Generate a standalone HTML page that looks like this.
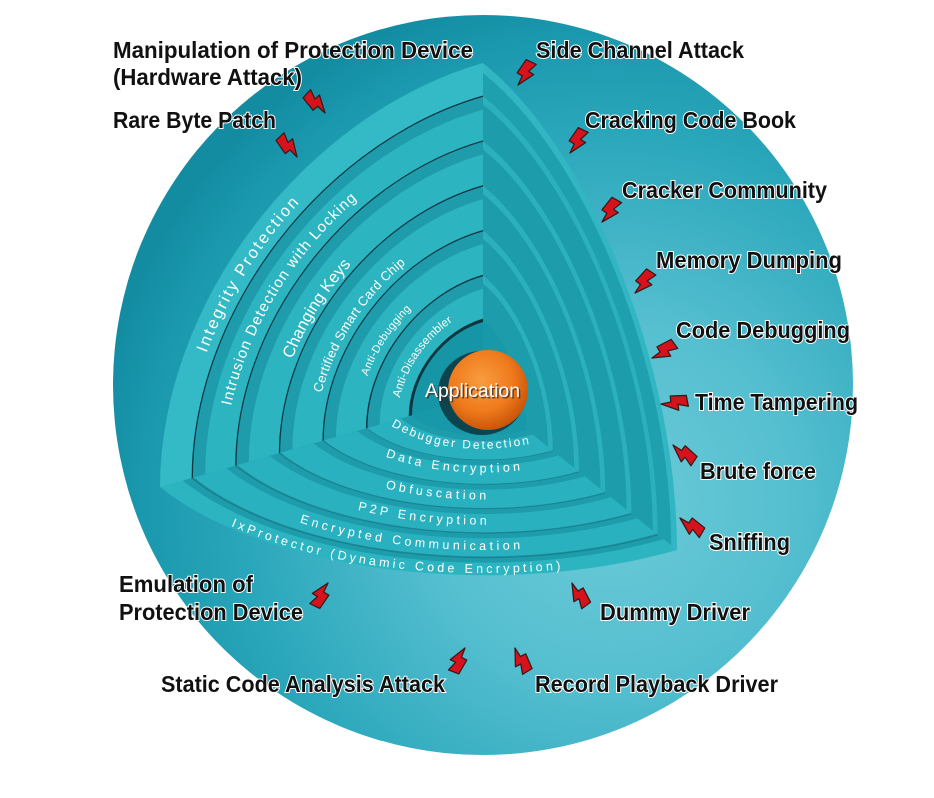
<!DOCTYPE html>
<html><head><meta charset="utf-8">
<style>
html,body{margin:0;padding:0;background:#fff;}
svg{display:block;}
.lab{font-family:"Liberation Sans",Arial,sans-serif;font-weight:bold;font-size:23px;fill:#111;stroke:#fff;stroke-width:2px;paint-order:stroke fill;}
.wt{font-family:"Liberation Sans",Arial,sans-serif;fill:#fff;}
</style></head><body>
<svg width="934" height="798" viewBox="0 0 934 798" xmlns="http://www.w3.org/2000/svg" xmlns:xlink="http://www.w3.org/1999/xlink">
<defs>
<radialGradient id="sph" gradientUnits="userSpaceOnUse" cx="610" cy="500" r="520">
 <stop offset="0" stop-color="#6ccad8"/>
 <stop offset="0.35" stop-color="#55bfd0"/>
 <stop offset="0.7" stop-color="#2ba7bb"/>
 <stop offset="0.9" stop-color="#1a98ad"/>
 <stop offset="1" stop-color="#138ca2"/>
</radialGradient>
<radialGradient id="ball" cx="0.42" cy="0.38" r="0.65">
 <stop offset="0" stop-color="#f99c40"/>
 <stop offset="0.6" stop-color="#ef7a1c"/>
 <stop offset="1" stop-color="#c65208"/>
</radialGradient>
<path id="q" d="M0,0 L100,0 A100,100 0 0 1 0,100 Z"/>
<path id="a" d="M100,0 A100,100 0 0 1 0,100" fill="none"/>
<path id="bolt" d="M-6,-26 L5,-27 L2,-17 L8,-17 L0,0 L-1,-10 L-7,-10 Z" fill="#d6121c" stroke="#3b1a1a" stroke-width="1.3" stroke-linejoin="round"/>

<path id="w1" d="M206.5,353.1 Q236.9,271.1 298,204.3"/>
<path id="w2" d="M231,406 Q259.65,282.85 361.7,195.1"/>
<path id="w3" d="M292.3,359.2 Q312.6,308.3 349.7,266.2"/>
<path id="w4" d="M321.6,393.1 Q343.05,315.35 407.5,262.2"/>
<path id="w5" d="M367.5,376.3 Q381.9,338.25 411.5,308.8"/>
<path id="w6" d="M399.8,398 Q411.55,349.95 453.5,320.9"/>

<path id="f1" d="M231,526 Q374,586.5 567,569"/>
<path id="f2" d="M299.5,522.3 Q404.1,556.15 529.1,548.6"/>
<path id="f3" d="M357.7,509.8 Q420.95,525.55 492.4,524.7"/>
<path id="f4" d="M385.4,488.3 Q435.2,500.1 490.6,499.5"/>
<path id="f5" d="M385.5,456.7 Q450.45,479.25 527.6,469.6"/>
<path id="f6" d="M386.1,422.6 Q447.55,462.75 541.2,441.5"/>
</defs>

<!-- sphere -->
<circle cx="483" cy="385" r="370" fill="url(#sph)"/>

<!-- right wall -->
<g transform="matrix(1.94,1.55,0,-3.32,483,395)">
 <use href="#q" fill="#33b6c3"/>
 <use href="#q" transform="scale(0.97)" fill="#1fa0af"/>
 <use href="#q" transform="scale(0.9)" fill="#2cb0bd"/>
 <use href="#q" transform="scale(0.875)" fill="#1d9cab"/>
 <use href="#q" transform="scale(0.765)" fill="#2cb0bd"/>
 <use href="#q" transform="scale(0.74)" fill="#1d9cab"/>
 <use href="#q" transform="scale(0.63)" fill="#2cb0bd"/>
 <use href="#q" transform="scale(0.605)" fill="#1d9cab"/>
 <use href="#q" transform="scale(0.495)" fill="#2cb0bd"/>
 <use href="#q" transform="scale(0.47)" fill="#1d9cab"/>
 <use href="#q" transform="scale(0.36)" fill="#2cb0bd"/>
 <use href="#q" transform="scale(0.335)" fill="#1d9cab"/>
 <use href="#q" transform="scale(0.225)" fill="#1899a9"/>
</g>

<!-- floor -->
<g transform="matrix(1.94,1.55,-3.23,0.92,483,395)">
 <use href="#q" fill="#2db4c1"/>
 <use href="#q" transform="scale(0.93)" fill="#1d9cac"/>
 <use href="#q" transform="scale(0.9)" fill="#2ab1bf"/>
 <use href="#q" transform="scale(0.795)" fill="#1d9cac"/>
 <use href="#q" transform="scale(0.765)" fill="#2ab1bf"/>
 <use href="#q" transform="scale(0.66)" fill="#1d9cac"/>
 <use href="#q" transform="scale(0.63)" fill="#2ab1bf"/>
 <use href="#q" transform="scale(0.525)" fill="#1d9cac"/>
 <use href="#q" transform="scale(0.495)" fill="#2ab1bf"/>
 <use href="#q" transform="scale(0.39)" fill="#1d9cac"/>
 <use href="#q" transform="scale(0.36)" fill="#2ab1bf"/>
 <use href="#q" transform="scale(0.255)" fill="#1d9cac"/>
 <use href="#q" transform="scale(0.225)" fill="#1899a9"/>
 <g stroke="#0b3b44" stroke-opacity="0.3" fill="none">
  <use href="#a" transform="scale(0.9)"/>
  <use href="#a" transform="scale(0.765)"/>
  <use href="#a" transform="scale(0.63)"/>
  <use href="#a" transform="scale(0.495)"/>
  <use href="#a" transform="scale(0.36)"/>
 </g>
</g>

<!-- left wall -->
<g transform="matrix(-3.23,0.92,0,-3.32,483,395)">
 <use href="#q" fill="#34bac6"/>
 <use href="#q" transform="scale(0.9)" fill="#1e9cac"/>
 <use href="#q" transform="scale(0.86)" fill="#2db4c1"/>
 <use href="#q" transform="scale(0.765)" fill="#1e9cac"/>
 <use href="#q" transform="scale(0.725)" fill="#2db4c1"/>
 <use href="#q" transform="scale(0.63)" fill="#1e9cac"/>
 <use href="#q" transform="scale(0.59)" fill="#2db4c1"/>
 <use href="#q" transform="scale(0.495)" fill="#1e9cac"/>
 <use href="#q" transform="scale(0.455)" fill="#2db4c1"/>
 <use href="#q" transform="scale(0.36)" fill="#1e9cac"/>
 <use href="#q" transform="scale(0.32)" fill="#2db4c1"/>
 <use href="#q" transform="scale(0.225)" fill="#1595a5"/>
</g>

<!-- left wall black lines -->
<g transform="matrix(-3.23,0.92,0,-3.32,483,395)" fill="none" stroke="#0b3640">
 <path d="M90,0 A90,90 0 0 1 0,90" stroke-width="0.4"/>
 <path d="M76.5,0 A76.5,76.5 0 0 1 0,76.5" stroke-width="0.4"/>
 <path d="M63,0 A63,63 0 0 1 0,63" stroke-width="0.4"/>
 <path d="M49.5,0 A49.5,49.5 0 0 1 0,49.5" stroke-width="0.4"/>
 <path d="M36,0 A36,36 0 0 1 0,36" stroke-width="0.45"/>
 <path d="M22.5,0 A22.5,22.5 0 0 1 0,22.5" stroke-width="1"/>
</g>

<!-- ball -->
<ellipse cx="482" cy="393" rx="44" ry="42" fill="#0a2a31" opacity="0.75"/>
<circle cx="488" cy="390" r="40" fill="url(#ball)"/>
<text x="426.5" y="398.5" font-family="Liberation Sans, Arial, sans-serif" font-size="19" fill="#333" opacity="0.8" textLength="95" lengthAdjust="spacingAndGlyphs">Application</text>
<text x="425" y="397" font-family="Liberation Sans, Arial, sans-serif" font-size="19" fill="#fff" textLength="95" lengthAdjust="spacingAndGlyphs">Application</text>

<!-- wall labels -->
<text class="wt" font-size="16.5" letter-spacing="2.1"><textPath href="#w1">Integrity Protection</textPath></text>
<text class="wt" font-size="15" letter-spacing="1.1"><textPath href="#w2">Intrusion Detection with Locking</textPath></text>
<text class="wt" font-size="16.5"><textPath href="#w3">Changing Keys</textPath></text>
<text class="wt" font-size="13" letter-spacing="0.33"><textPath href="#w4">Certified Smart Card Chip</textPath></text>
<text class="wt" font-size="11" letter-spacing="0.37"><textPath href="#w5">Anti-Debugging</textPath></text>
<text class="wt" font-size="11.5" letter-spacing="0.1"><textPath href="#w6">Anti-Disassembler</textPath></text>

<!-- floor labels -->
<text class="wt" font-size="12.5" letter-spacing="3.3"><textPath href="#f1">IxProtector (Dynamic Code Encryption)</textPath></text>
<text class="wt" font-size="12.5" letter-spacing="3.5"><textPath href="#f2">Encrypted Communication</textPath></text>
<text class="wt" font-size="12.5" letter-spacing="3.4"><textPath href="#f3">P2P Encryption</textPath></text>
<text class="wt" font-size="12.5" letter-spacing="3.5"><textPath href="#f4">Obfuscation</textPath></text>
<text class="wt" font-size="12.5" letter-spacing="3.4"><textPath href="#f5">Data Encryption</textPath></text>
<text class="wt" font-size="12" letter-spacing="2.1"><textPath href="#f6" startOffset="6">Debugger Detection</textPath></text>

<!-- bolts -->
<use href="#bolt" transform="translate(325,113) rotate(-42.3)"/>
<use href="#bolt" transform="translate(297,157) rotate(-38.7)"/>
<use href="#bolt" transform="translate(518,85) rotate(31)"/>
<use href="#bolt" transform="translate(570,153) rotate(31)"/>
<use href="#bolt" transform="translate(602,222) rotate(35)"/>
<use href="#bolt" transform="translate(635,293) rotate(38.7)"/>
<use href="#bolt" transform="translate(652,358) rotate(59)"/>
<use href="#bolt" transform="translate(661,404) rotate(84.3)"/>
<use href="#bolt" transform="translate(673,445) rotate(128.7)"/>
<use href="#bolt" transform="translate(680,518) rotate(125)"/>
<use href="#bolt" transform="translate(328,583) rotate(-149)"/>
<use href="#bolt" transform="translate(572,583) rotate(149)"/>
<use href="#bolt" transform="translate(465,648) rotate(-153.4)"/>
<use href="#bolt" transform="translate(515,648) rotate(153.4)"/>

<!-- attack labels -->
<text class="lab" x="113" y="58" textLength="360" lengthAdjust="spacingAndGlyphs">Manipulation of Protection Device</text>
<text class="lab" x="113" y="85" textLength="189" lengthAdjust="spacingAndGlyphs">(Hardware Attack)</text>
<text class="lab" x="113" y="128" textLength="163" lengthAdjust="spacingAndGlyphs">Rare Byte Patch</text>
<text class="lab" x="536" y="58" textLength="208" lengthAdjust="spacingAndGlyphs">Side Channel Attack</text>
<text class="lab" x="585" y="128" textLength="211" lengthAdjust="spacingAndGlyphs">Cracking Code Book</text>
<text class="lab" x="622" y="198" textLength="205" lengthAdjust="spacingAndGlyphs">Cracker Community</text>
<text class="lab" x="656" y="268" textLength="186" lengthAdjust="spacingAndGlyphs">Memory Dumping</text>
<text class="lab" x="676" y="338" textLength="174" lengthAdjust="spacingAndGlyphs">Code Debugging</text>
<text class="lab" x="695" y="410" textLength="163" lengthAdjust="spacingAndGlyphs">Time Tampering</text>
<text class="lab" x="700" y="479" textLength="116" lengthAdjust="spacingAndGlyphs">Brute force</text>
<text class="lab" x="709" y="550" textLength="81" lengthAdjust="spacingAndGlyphs">Sniffing</text>
<text class="lab" x="119" y="592" textLength="134" lengthAdjust="spacingAndGlyphs">Emulation of</text>
<text class="lab" x="119" y="620" textLength="184" lengthAdjust="spacingAndGlyphs">Protection Device</text>
<text class="lab" x="600" y="620" textLength="150" lengthAdjust="spacingAndGlyphs">Dummy Driver</text>
<text class="lab" x="161" y="692" textLength="284" lengthAdjust="spacingAndGlyphs">Static Code Analysis Attack</text>
<text class="lab" x="535" y="692" textLength="243" lengthAdjust="spacingAndGlyphs">Record Playback Driver</text>
</svg>
</body></html>
